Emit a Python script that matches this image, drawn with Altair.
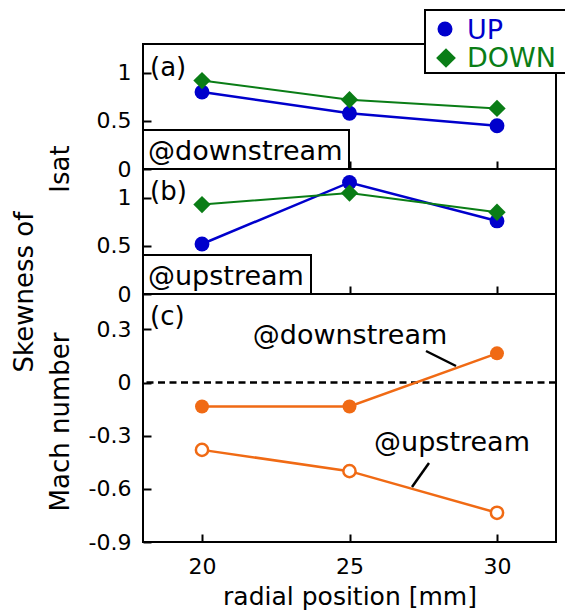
import altair as alt
import pandas as pd

FONT = "DejaVu Sans"
BLUE = "#0000cc"
GREEN = "#0a7d16"
ORANGE = "#f06a14"

# ---- data ----
radial = [20, 25, 30]
a_up = [0.80, 0.58, 0.45]       # (a) @downstream, UP
a_down = [0.92, 0.72, 0.63]     # (a) @downstream, DOWN
b_up = [0.52, 1.16, 0.76]       # (b) @upstream, UP
b_down = [0.93, 1.05, 0.85]     # (b) @upstream, DOWN
c_down = [-0.135, -0.135, 0.165]  # (c) Mach @downstream
c_up = [-0.38, -0.50, -0.735]     # (c) Mach @upstream
legend_labels = ["UP", "DOWN"]
x_ticks = [20, 25, 30]
y_ticks_ab = [0, 0.5, 1]
y_ticks_c = [-0.9, -0.6, -0.3, 0, 0.3]

W = 413
H_AB = 125
H_C = 248

xscale = alt.Scale(domain=[18, 32], nice=False, zero=False)
yscale_ab = alt.Scale(domain=[0, 1.3], nice=False, zero=False)
yscale_c = alt.Scale(domain=[-0.9, 0.5], nice=False, zero=False)

common_axis = dict(offset=-8, tickSize=8, domain=False, grid=False, tickWidth=2,
                   tickColor="black", zindex=0, labelFlush=False, labelOverlap=False)

xaxis_hidden = alt.Axis(values=x_ticks, labels=False, title=None, **common_axis)
xaxis_c = alt.Axis(values=x_ticks, labelExpr="toString(datum.value)", labelPadding=14,
                   title="radial position [mm]", titlePadding=7, **common_axis)
yaxis_ab = alt.Axis(values=y_ticks_ab, labelExpr="toString(datum.value)", labelPadding=12,
                    title=None, **common_axis)
yaxis_c = alt.Axis(values=y_ticks_c, labelExpr="toString(datum.value)", labelPadding=12,
                   title=None, **common_axis)

one = pd.DataFrame({"k": [0]})


def series(vals, xaxis, yscale, yaxis, color, shape, size, sw, fill=None):
    df = pd.DataFrame({"r": radial, "v": vals})
    X = alt.X("r:Q", scale=xscale, axis=xaxis)
    Y = alt.Y("v:Q", scale=yscale, axis=yaxis)
    line = alt.Chart(df).mark_line(color=color, strokeWidth=sw).encode(x=X, y=Y)
    if fill is None:
        pts = alt.Chart(df).mark_point(shape=shape, size=size, filled=True, color=color,
                                       opacity=1).encode(x=X, y=Y)
    else:
        pts = alt.Chart(df).mark_point(shape=shape, size=size, filled=True, fill=fill,
                                       stroke=color, strokeWidth=2.5, opacity=1).encode(x=X, y=Y)
    return [line, pts]


def text(t, x, y, size=25, align="left", baseline="alphabetic", color="black", angle=0):
    return alt.Chart(one).mark_text(text=t, font=FONT, fontSize=size, align=align,
                                    baseline=baseline, color=color, angle=angle).encode(
        x=alt.value(x), y=alt.value(y))


def rule(x, y, x2, y2, sw=2):
    return alt.Chart(one).mark_rule(color="black", strokeWidth=sw).encode(
        x=alt.value(x), y=alt.value(y), x2=alt.value(x2), y2=alt.value(y2))


def box(x2, ytop, h):
    return alt.Chart(one).mark_rect(fill="white", stroke="black", strokeWidth=2).encode(
        x=alt.value(0), x2=alt.value(x2), y=alt.value(ytop), y2=alt.value(h))


LEG_R = 422  # right end of legend box lines (kept inside the page)

# ---- panel (a) ----
layers_a = []
layers_a += series(a_up, xaxis_hidden, yscale_ab, yaxis_ab, BLUE, "circle", 220, 2.5)
layers_a += series(a_down, xaxis_hidden, yscale_ab, yaxis_ab, GREEN, "diamond", 300, 2)
layers_a += [box(206, 86, H_AB), text("@downstream", 5, 116, size=27),
             text("(a)", 7, 24, size=26, baseline="middle")]
# legend
layers_a += [
    alt.Chart(one).mark_rect(fill="white", strokeWidth=0).encode(
        x=alt.value(282), x2=alt.value(LEG_R), y=alt.value(-34), y2=alt.value(29)),
    rule(281, -34, LEG_R, -34), rule(281, 29, LEG_R, 29), rule(282, -34, 282, 29),
    alt.Chart(one).mark_point(shape="circle", size=225, filled=True, color=BLUE, opacity=1).encode(
        x=alt.value(302), y=alt.value(-15)),
    alt.Chart(one).mark_point(shape="diamond", size=390, filled=True, color=GREEN, opacity=1).encode(
        x=alt.value(303), y=alt.value(14)),
    text(legend_labels[0], 324, -5, size=27, color=BLUE),
    text(legend_labels[1], 324, 23, size=27, color=GREEN),
]
# y titles
layers_a += [text("Isat", -82, 125, size=26, align="center", baseline="middle", angle=270),
             text("Skewness of", -118, 248, size=26, align="center", baseline="middle", angle=270)]
panel_a = alt.layer(*layers_a).properties(width=W, height=H_AB)

# ---- panel (b) ----
layers_b = []
layers_b += series(b_up, xaxis_hidden, yscale_ab, yaxis_ab, BLUE, "circle", 220, 2.5)
layers_b += series(b_down, xaxis_hidden, yscale_ab, yaxis_ab, GREEN, "diamond", 300, 2)
layers_b += [box(168, 86, H_AB), text("@upstream", 5, 116, size=27),
             text("(b)", 7, 23, size=26, baseline="middle")]
panel_b = alt.layer(*layers_b).properties(width=W, height=H_AB)

# ---- panel (c) ----
zero_df = pd.DataFrame({"z": [0]})
layers_c = [
    alt.Chart(zero_df).mark_rule(color="black", strokeWidth=2.5, strokeDash=[7, 4.5]).encode(
        y=alt.Y("z:Q", scale=yscale_c, axis=yaxis_c)),
]
layers_c += series(c_down, xaxis_c, yscale_c, yaxis_c, ORANGE, "circle", 195, 2.5)
layers_c += series(c_up, xaxis_c, yscale_c, yaxis_c, ORANGE, "circle", 150, 2.5, fill="white")
layers_c += [
    text("(c)", 7, 23, size=26, baseline="middle"),
    text("@downstream", 207, 50, size=27, align="center"),
    rule(283, 57, 313, 72, sw=2.5),
    text("@upstream", 309, 157, size=27, align="center"),
    rule(286, 169, 269, 193, sw=2.5),
    text("Mach number", -82, 128, size=26, align="center", baseline="middle", angle=270),
]
panel_c = alt.layer(*layers_c).properties(width=W, height=H_C)

chart = alt.vconcat(panel_a, panel_b, panel_c, spacing=0, bounds="flush").properties(
    padding={"left": 3, "top": 0, "right": 0, "bottom": 0}
).configure_view(stroke="black", strokeWidth=2).configure_axis(
    labelFont=FONT, labelFontSize=22, labelColor="black",
    titleFont=FONT, titleFontSize=25, titleColor="black", titleFontWeight="normal"
)

chart.save("out.html", embed_options={"renderer": "svg", "actions": False})
